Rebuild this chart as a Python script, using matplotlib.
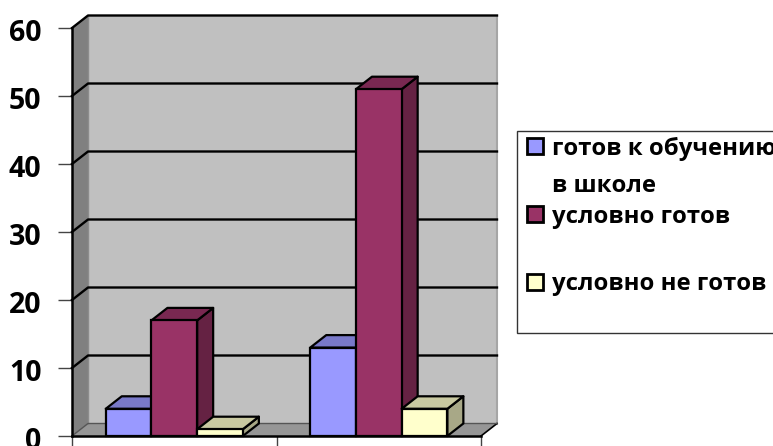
import matplotlib
matplotlib.use("Agg")
import matplotlib.pyplot as plt
from matplotlib.patches import Polygon, Rectangle
from matplotlib.transforms import ScaledTranslation

plt.rcParams['font.family'] = ['Open Sans', 'DejaVu Sans']

groups = [0, 1]
gotov = [4, 13]
uslovno_gotov = [17, 51]
uslovno_ne_gotov = [1, 4]
y_ticks = [0, 10, 20, 30, 40, 50, 60]
x_ticks = [0, 1, 2]
legend_labels = ["готов к обучению\nв школе", "условно готов", "условно не готов"]
colors = ["#9999FF", "#993366", "#FFFFCC"]

W, H = 773, 446
# глубина "3D" в единицах данных
DX = 16 / 204.5
DY = 12.5 / 6.8
BAR_W = 0.2235
GROUP_START = 0.165


def shade(color, k):
    r, g, b = matplotlib.colors.to_rgb(color)
    return (r * k, g * k, b * k)


def bar3d(ax, x, value, color, z):
    ax.add_patch(Polygon([(x + BAR_W, 0), (x + BAR_W + DX, DY), (x + BAR_W + DX, value + DY), (x + BAR_W, value)],
                         fc=shade(color, 0.66), ec="black", lw=1.6, zorder=z, clip_on=False, joinstyle="round"))
    ax.add_patch(Polygon([(x, value), (x + DX, value + DY), (x + BAR_W + DX, value + DY), (x + BAR_W, value)],
                         fc=shade(color, 0.79), ec="black", lw=1.6, zorder=z, clip_on=False, joinstyle="round"))
    ax.add_patch(Rectangle((x, 0), BAR_W, value, fc=color, ec="black", lw=1.6, zorder=z, clip_on=False))


fig = plt.figure(figsize=(W / 100, H / 100), dpi=100)
ax = fig.add_axes([72 / W, (H - 436) / H, (481 - 72) / W, (436 - 28) / H])
ax.set_xlim(0, 2)
ax.set_ylim(0, 60)
ax.patch.set_visible(False)
for s in ["top", "right"]:
    ax.spines[s].set_visible(False)
ax.spines["left"].set_linewidth(1.8)
ax.spines["bottom"].set_linewidth(1.8)
ax.spines["left"].set_zorder(6)
ax.spines["bottom"].set_zorder(6)

top = y_ticks[-1]
# стенки и пол
ax.add_patch(Polygon([(DX, DY), (2 + DX, DY), (2 + DX, top + DY), (DX, top + DY)],
                     fc="#C0C0C0", ec="none", zorder=1, clip_on=False))
ax.add_patch(Polygon([(0, 0), (DX, DY), (DX, top + DY), (0, top)],
                     fc="#808080", ec="none", zorder=1, clip_on=False))
ax.add_patch(Polygon([(0, 0), (2, 0), (2 + DX, DY), (DX, DY)],
                     fc="#969696", ec="none", zorder=1, clip_on=False))
ax.plot([2 + DX, 2 + DX], [DY, top + DY], color="#A6A6A6", lw=1.5, zorder=1.5, clip_on=False)
ax.plot([DX, DX], [0 + DY, top + DY], color="#8C8C8C", lw=1, zorder=1.5, clip_on=False)
ax.plot([2, 2 + DX], [0, DY], color="black", lw=1.2, zorder=1.5, clip_on=False)

# сетка
for v in y_ticks:
    ax.plot([0, DX, 2 + DX], [v, v + DY, v + DY], color="black" if v else "#555555",
            lw=1.7 if v else 1, zorder=2, clip_on=False)

series = [gotov, uslovno_gotov, uslovno_ne_gotov]
for g in groups:
    for i, values in enumerate(series):
        bar3d(ax, g + GROUP_START + i * BAR_W, values[g], colors[i], 3 + i)

ax.set_xticks(x_ticks)
ax.set_xticklabels([])
ax.set_yticks(y_ticks)
ax.tick_params(axis="y", length=10, width=1, color="#444444", pad=12, labelsize=20.5)
ax.tick_params(axis="x", length=10, width=1, color="#444444")
shift = ScaledTranslation(0, -2 / 100, fig.dpi_scale_trans)
for t in ax.get_yticklabels():
    t.set_fontweight("bold")
    t.set_color("black")
    t.set_transform(t.get_transform() + shift)

# легенда
lg = fig.add_axes([0, 0, 1, 1])
lg.set_xlim(0, W)
lg.set_ylim(H, 0)
lg.axis("off")
lg.patch.set_visible(False)
lg.add_patch(Rectangle((517, 131), 270, 202, fc="white", ec="#333333", lw=1))
swatch_y = [138, 206, 274]
text_y = [155, 223, 290]
for i, label in enumerate(legend_labels):
    lg.add_patch(Rectangle((527, swatch_y[i]), 16, 16, fc=colors[i], ec="black", lw=2))
    lines = label.split("\n")
    lg.text(552, text_y[i], lines[0], fontsize=17.2, fontweight="bold", va="baseline", ha="left")
    if len(lines) > 1:
        lg.text(552, text_y[i] + 37, lines[1], fontsize=17.2, fontweight="bold", va="baseline", ha="left")

fig.savefig("out.png", dpi=100)
